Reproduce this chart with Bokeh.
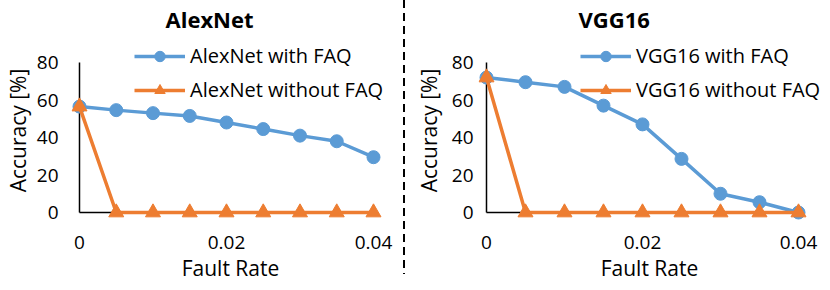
from bokeh.plotting import figure
from bokeh.models import Range1d, FixedTicker, Legend, LegendItem, Div
from bokeh.layouts import row
from bokeh.embed import file_html
from bokeh.resources import INLINE

# ---- data ----
fault_rate = [0, 0.005, 0.01, 0.015, 0.02, 0.025, 0.03, 0.035, 0.04]
alexnet_with_faq = [56.5, 54.6, 53.0, 51.5, 48.0, 44.5, 41.0, 38.0, 29.5]
alexnet_without_faq = [56.5, 0, 0, 0, 0, 0, 0, 0, 0]
vgg16_with_faq = [72.0, 69.5, 67.0, 57.0, 47.0, 28.6, 10.0, 5.5, 0.0]
vgg16_without_faq = [72.0, 0, 0, 0, 0, 0, 0, 0, 0]
y_ticks = [0, 20, 40, 60, 80]
x_ticks = [0, 0.02, 0.04]
x_tick_labels = ["0", "0.02", "0.04"]

BLUE = "#5B9BD5"
ORANGE = "#ED7D31"
FONT = "Open Sans"


def make_panel(title, name, with_vals, without_vals, geo):
    p = figure(
        frame_width=geo["frame_w"], frame_height=182,
        x_range=Range1d(geo["x0"], geo["x1"]), y_range=Range1d(-4.8, 92.27),
        min_border_left=geo["mbl"], min_border_right=geo["mbr"],
        min_border_top=32, min_border_bottom=50,
        output_backend="svg", toolbar_location=None, title=title,
    )
    p.outline_line_color = None
    p.grid.visible = False
    p.background_fill_color = None
    p.border_fill_color = None

    p.title.text_font = FONT
    p.title.text_font_size = "22px"
    p.title.text_font_style = "bold"
    p.title.text_color = "#000000"
    p.title.align = "left"
    p.title.offset = geo["toff"]
    p.title.vertical_align = "top"
    p.title.standoff = 7

    for ax in (p.xaxis[0], p.yaxis[0]):
        ax.axis_line_color = None
        ax.major_tick_line_color = None
        ax.minor_tick_line_color = None
        ax.major_tick_out = 0
        ax.major_tick_in = 0
        ax.minor_tick_out = 0
        ax.major_label_text_font = FONT
        ax.major_label_text_font_size = "19px"
        ax.major_label_text_color = "#000000"
        ax.axis_label_text_font = FONT
        ax.axis_label_text_font_size = "21px"
        ax.axis_label_text_font_style = "normal"
        ax.axis_label_text_color = "#000000"

    p.xaxis.ticker = FixedTicker(ticks=x_ticks)
    p.xaxis.major_label_overrides = {t: l for t, l in zip(x_ticks, x_tick_labels)}
    p.xaxis.major_label_standoff = 14
    p.xaxis.axis_label = "Fault Rate"
    p.xaxis.axis_label_standoff = 2

    p.yaxis.ticker = FixedTicker(ticks=y_ticks)
    p.yaxis.major_label_standoff = geo["ystand"]
    p.yaxis.axis_label = "Accuracy [%]"
    p.yaxis.axis_label_standoff = geo["ylstand"]

    # Excel-like axis lines at x=0 (up to top tick) and y=0
    p.segment(x0=[fault_rate[0]], y0=[y_ticks[0]], x1=[fault_rate[0]], y1=[y_ticks[-1]],
              line_color="#000000", line_width=1.5)
    p.segment(x0=[fault_rate[0]], y0=[y_ticks[0]], x1=[fault_rate[-1]], y1=[y_ticks[0]],
              line_color="#000000", line_width=1.5)

    l1 = p.line(fault_rate, with_vals, line_color=BLUE, line_width=3.5)
    m1 = p.scatter(fault_rate, with_vals, marker="circle", size=13,
                   fill_color=BLUE, line_color=BLUE)
    l2 = p.line(fault_rate, without_vals, line_color=ORANGE, line_width=3.5)
    m2 = p.scatter(fault_rate, without_vals, marker="triangle", size=15,
                   fill_color=ORANGE, line_color=ORANGE)

    legend = Legend(
        items=[LegendItem(label=f"{name} with FAQ", renderers=[l1, m1]),
               LegendItem(label=f"{name} without FAQ", renderers=[l2, m2])],
        location=geo["legloc"],
        border_line_color=None, background_fill_color=None,
        padding=0, margin=0, spacing=7,
        glyph_width=51, glyph_height=26, label_height=26, label_standoff=5,
        label_text_font=FONT, label_text_font_size="20px", label_text_color="#000000",
    )
    p.add_layout(legend, "center")
    return p


p1 = make_panel("AlexNet", "AlexNet", alexnet_with_faq, alexnet_without_faq,
                dict(frame_w=318, x0=-0.0010884, x1=0.0421769, mbl=66, mbr=8,
                     toff=94, ystand=13, ylstand=2, legloc=(63, 118)))
p2 = make_panel("VGG16", "VGG16", vgg16_with_faq, vgg16_without_faq,
                dict(frame_w=342, x0=-0.0010256, x1=0.0428205, mbl=66, mbr=0,
                     toff=100, ystand=5, ylstand=6, legloc=(102, 118)))

sep = Div(text="", width=2, height=274, margin=(0, 6, 0, 6),
          styles={"background": "repeating-linear-gradient(to bottom, #000 0px, #000 8px, transparent 8px, transparent 13px)"})

layout = row(p1, sep, p2)
open("out.html", "w").write(file_html(layout, INLINE))
